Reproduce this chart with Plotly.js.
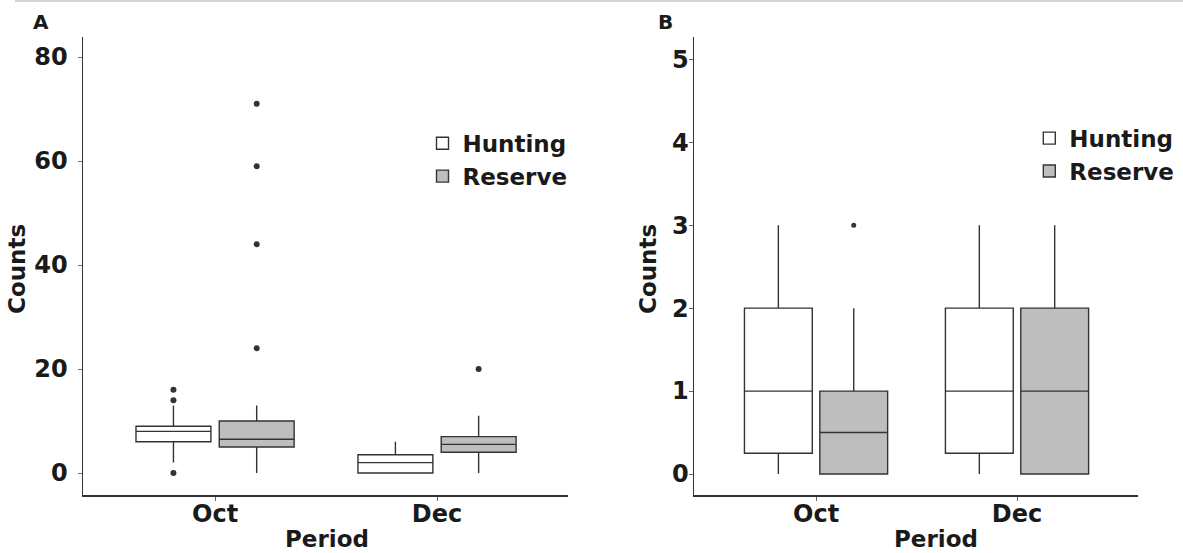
<!DOCTYPE html>
<html>
<head>
<meta charset="utf-8">
<script src="https://cdn.plot.ly/plotly-3.0.1.min.js"></script>
<style>html,body{margin:0;padding:0;background:#fff;}#chart{width:1183px;height:553px;}</style>
</head>
<body>
<div id="chart"></div>
<script>
// ---- data ----
const periods = ['Oct', 'Dec'];

// Panel A (precomputed box stats)
const aHuntQ1 = [6, 0];
const aHuntMed = [8, 2];
const aHuntQ3 = [9, 3.5];
const aHuntLo = [2, 0];
const aHuntHi = [13, 6];
const aHuntOut = [[16, 14, 0], []];

const aResQ1 = [5, 4];
const aResMed = [6.5, 5.5];
const aResQ3 = [10, 7];
const aResLo = [0, 0];
const aResHi = [13, 11];
const aResOut = [[24, 44, 59, 71], [20]];

// Panel B
const bHuntQ1 = [0.25, 0.25];
const bHuntMed = [1, 1];
const bHuntQ3 = [2, 2];
const bHuntLo = [0, 0];
const bHuntHi = [3, 3];
const bHuntOut = null; // no outliers

const bResQ1 = [0, 0];
const bResMed = [0.5, 1];
const bResQ3 = [1, 2];
const bResLo = [0, 0];
const bResHi = [2, 3];
const bResOut = [[3], []];

const groupNames = ['Hunting', 'Reserve'];
const tickA = [0, 20, 40, 60, 80];
const tickB = [0, 1, 2, 3, 4, 5];

// ---- styling ----
const FONT = '"DejaVu Sans", "Liberation Sans", Arial, sans-serif';
const INK = '#1a1a1a';
const LINE = '#333333';
const fills = ['#ffffff', '#bebebe'];

function box(name, q1, med, q3, lo, hi, pts, fill, xa, ya, leg, msize) {
  const t = {
    type: 'box', name: name, x: periods,
    q1: q1, median: med, q3: q3, lowerfence: lo, upperfence: hi,
    boxpoints: pts ? 'outliers' : false, jitter: 0, pointpos: 0,
    fillcolor: fill, line: {color: LINE, width: 1.4}, whiskerwidth: 0,
    marker: {color: LINE, size: msize, line: {width: 0}},
    xaxis: xa, yaxis: ya, legend: leg, showlegend: true,
    offsetgroup: name, alignmentgroup: xa, hoverinfo: 'skip'
  };
  if (pts) t.y = pts;
  return t;
}

const traces = [
  box(groupNames[0], aHuntQ1, aHuntMed, aHuntQ3, aHuntLo, aHuntHi, aHuntOut, fills[0], 'x', 'y', 'legend', 6),
  box(groupNames[1], aResQ1, aResMed, aResQ3, aResLo, aResHi, aResOut, fills[1], 'x', 'y', 'legend', 6),
  box(groupNames[0], bHuntQ1, bHuntMed, bHuntQ3, bHuntLo, bHuntHi, bHuntOut, fills[0], 'x2', 'y2', 'legend2', 5),
  box(groupNames[1], bResQ1, bResMed, bResQ3, bResLo, bResHi, bResOut, fills[1], 'x2', 'y2', 'legend2', 5)
];

const tickFont = {family: FONT, size: 24, color: INK, weight: 'bold'};
function xaxisCfg(domain, range, anchor) {
  return {
    domain: domain, range: range, anchor: anchor, type: 'category',
    showline: true, linecolor: LINE, linewidth: 1.5, mirror: false,
    showgrid: false, zeroline: false,
    ticks: 'outside', ticklen: 4, tickcolor: '#666', tickwidth: 1,
    ticklabelstandoff: -7,
    tickfont: tickFont, fixedrange: true
  };
}
function yaxisCfg(range, tv, anchor, standoff) {
  return {
    domain: [0, 1], range: range, anchor: anchor,
    tickvals: tv, ticktext: tv.map(String),
    showline: true, linecolor: LINE, linewidth: 1.5,
    showgrid: false, zeroline: false,
    ticks: 'outside', ticklen: 4, tickcolor: '#666', tickwidth: 1,
    ticklabelstandoff: standoff,
    tickfont: tickFont, fixedrange: true
  };
}

const ann = (text, x, y, angle, size) => ({
  text: text, x: x, y: y, xref: 'paper', yref: 'paper',
  xanchor: 'center', yanchor: 'middle', showarrow: false, textangle: angle || 0,
  font: {family: FONT, size: size || 23, color: INK, weight: 'bold'}
});

const legFont = {family: FONT, size: 23, color: INK, weight: 'bold'};

const layout = {
  width: 1183, height: 553,
  margin: {l: 83, r: 45, t: 37, b: 58, autoexpand: false},
  paper_bgcolor: '#ffffff', plot_bgcolor: '#ffffff',
  boxmode: 'group', boxgap: 0.25, boxgroupgap: 0.1,
  xaxis: xaxisCfg([0, 0.4597], [-0.595, 1.59], 'y'),
  yaxis: yaxisCfg([-4.23, 83.85], tickA, 'x', 5),
  xaxis2: xaxisCfg([0.5792, 1], [-0.607, 1.602], 'y2'),
  yaxis2: yaxisCfg([-0.253, 5.27], tickB, 'x2', -5),
  legend: {x: 0.3218, y: 0.815, xanchor: 'left', yanchor: 'top', bgcolor: 'rgba(0,0,0,0)', font: legFont, itemwidth: 30},
  legend2: {x: 0.897, y: 0.826, xanchor: 'left', yanchor: 'top', bgcolor: 'rgba(0,0,0,0)', font: legFont, itemwidth: 30},
  annotations: [
    ann('Counts', -0.0626, 0.4934, -90),
    ann('Counts', 0.5355, 0.4934, -90),
    ann('Period', 0.2313, -0.096, 0),
    ann('Period', 0.8085, -0.096, 0),
    ann('A', -0.0398, 1.0328, 0, 20),
    ann('B', 0.5526, 1.0328, 0, 20)
  ],
  shapes: [
    {type: 'line', xref: 'paper', yref: 'paper', x0: -0.0645, x1: 1.0427, y0: 1.0786, y1: 1.0786,
     line: {color: '#d4d4d4', width: 2}}
  ]
};

Plotly.newPlot('chart', traces, layout, {staticPlot: true, displayModeBar: false});
</script>
</body>
</html>
